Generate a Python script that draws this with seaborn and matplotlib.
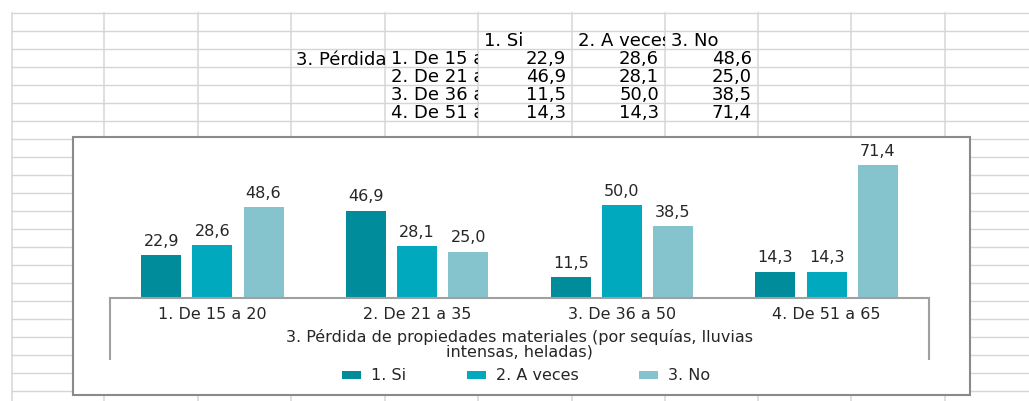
import pandas as pd
import matplotlib.pyplot as plt
import seaborn as sns
from matplotlib.patches import Rectangle
from matplotlib.transforms import Bbox


# -----------------------------
# DATA (read from the sheet)
# -----------------------------

grupos = ["1. De 15 a 20", "2. De 21 a 35", "3. De 36 a 50", "4. De 51 a 65"]
respuestas = ["1. Si", "2. A veces", "3. No"]
si = [22.9, 46.9, 11.5, 14.3]
a_veces = [28.6, 28.1, 50.0, 14.3]
no = [48.6, 25.0, 38.5, 71.4]
titulo = "3. Pérdida de propiedades materiales (por sequías, lluvias intensas, heladas)"
colores = ["#008C9B", "#00A9BD", "#86C4CD"]

# long form table for seaborn
series = [si, a_veces, no]
data = pd.DataFrame({
    "grupo": [g for s in series for g in grupos],
    "respuesta": [r for r, s in zip(respuestas, series) for _ in s],
    "valor": [v for s in series for v in s],
})


def coma(v):
    # spanish decimal comma
    return f"{v:.1f}".replace(".", ",")


# -----------------------------
# SPREADSHEET BACKGROUND
# -----------------------------

W, H = 1029, 401
fig = plt.figure(figsize=(W / 100, H / 100), dpi=100)
fig.patch.set_facecolor("white")

# background axes in pixel units (y going down like the screen)
bg = fig.add_axes([0, 0, 1, 1])
bg.set_xlim(0, W)
bg.set_ylim(H, 0)
bg.axis("off")

col_x = [12, 104, 198, 290.5, 385, 478, 572, 665, 758, 851, 945]
row_y = [13.3 + 18 * k for k in range(22)]
grid_color = "#D6D6D6"
for x in col_x:
    bg.plot([x, x], [13.3, H], color=grid_color, lw=1.1, zorder=1)
for y in row_y:
    bg.plot([12, W], [y, y], color=grid_color, lw=1.0, zorder=1)


def celda(texto, col, fila, ha="left"):
    # write text into a sheet cell, clipped like Excel does
    x0, x1 = col_x[col], col_x[col + 1]
    yc = (row_y[fila] + row_y[fila + 1]) / 2 + 1
    x = x0 + 6 if ha == "left" else x1 - 6
    t = bg.text(x, yc, texto, ha=ha, va="center", fontsize=13,
                color="black", zorder=2)
    t.set_clip_box(Bbox.from_extents(x0, H - row_y[fila + 1], x1, H - row_y[fila]))
    t.set_clip_on(True)


# table header and values
for j, r in enumerate(respuestas):
    celda(r, 5 + j, 1)
celda(titulo, 3, 2)
for i, g in enumerate(grupos):
    celda(g, 4, 2 + i)
    for j, s in enumerate(series):
        celda(coma(s[i]), 5 + j, 2 + i, ha="right")

# chart box on top of the grid
bg.add_patch(Rectangle((73, 136.5), 897, 258.5, facecolor="white",
                       edgecolor="#8A8A8A", lw=1.5, zorder=3))

# multi level axis frame
axis_color = "#A0A0A0"
bg.plot([110, 110], [298.3, 359], color=axis_color, lw=1.5, zorder=4)
bg.plot([929, 929], [298.3, 359], color=axis_color, lw=1.5, zorder=4)
bg.text(519.5, 344.5, "3. Pérdida de propiedades materiales (por sequías, lluvias\nintensas, heladas)",
        ha="center", va="center", fontsize=11.5, linespacing=0.95,
        color="#262626", zorder=4)


# -----------------------------
# BAR CHART
# -----------------------------

ax = fig.add_axes([110 / W, (H - 298.3) / H, 819 / W, 149.6 / H])
ax.patch.set_visible(False)

sns.barplot(data=data, x="grupo", y="valor", hue="respuesta",
            palette=colores, width=0.75, gap=0.22, saturation=1,
            ax=ax)

ax.set_xlim(-0.5, 3.5)
ax.set_ylim(0, 80)

# value labels on top of each bar
for cont, s in zip(ax.containers, series):
    ax.bar_label(cont, labels=[coma(v) for v in s], padding=4.5,
                 fontsize=11.5, color="#262626")

# axis styling
for side in ["top", "left", "right"]:
    ax.spines[side].set_visible(False)
ax.spines["bottom"].set_color(axis_color)
ax.spines["bottom"].set_linewidth(1.5)
ax.set_yticks([])
ax.tick_params(axis="x", length=0, pad=6.5, labelsize=11.5, labelcolor="#262626")
ax.set_xlabel("")
ax.set_ylabel("")

# legend below the axis title
handles, labels = ax.get_legend_handles_labels()
ax.legend(handles, labels, loc="center", ncol=3, frameon=False,
          bbox_to_anchor=(526 / W, (H - 376) / H), bbox_transform=fig.transFigure,
          fontsize=11.5, handlelength=1.2, handleheight=0.45, handletextpad=0.6,
          columnspacing=3.8, labelcolor="#262626")

fig.savefig("out.png", dpi=100)
